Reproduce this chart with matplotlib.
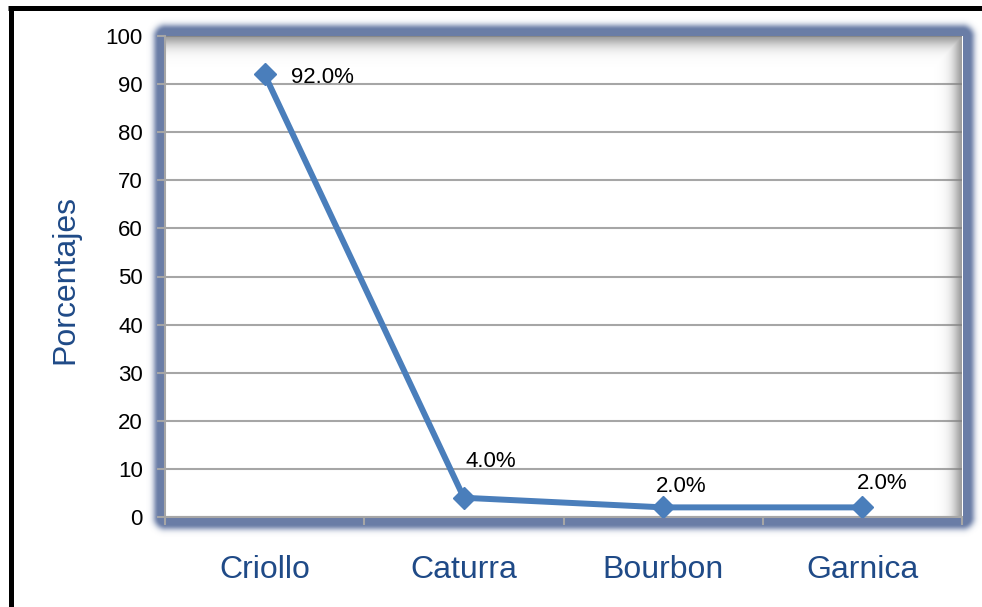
import matplotlib
matplotlib.use("Agg")
import matplotlib.pyplot as plt
import numpy as np
from matplotlib.lines import Line2D

# Data
categories = ["Criollo", "Caturra", "Bourbon", "Garnica"]
values = [92.0, 4.0, 2.0, 2.0]
labels = ["92.0%", "4.0%", "2.0%", "2.0%"]
label_offsets = [(58, -3), (27, 36), (18, 21), (20, 24)]  # px, style only

plt.rcParams['font.family'] = ['Liberation Sans', 'DejaVu Sans']

W, H = 982, 607
fig = plt.figure(figsize=(W / 100, H / 100), dpi=100)

# axes box in pixels (from top-left)
x0, x1, y0, y1 = 165, 962, 517, 36
ax = fig.add_axes([x0 / W, 1 - y0 / H, (x1 - x0) / W, (y0 - y1) / H])

# soft blue-grey glow around the plot area
py, px = np.mgrid[0:H, 0:W]
dx = np.maximum(np.maximum(x0 - px, px - x1), 0)
dy = np.maximum(np.maximum(y1 - py, py - y0), 0)
d = np.hypot(dx, dy)
a = np.where(d <= 7, 1.0, np.exp(-((d - 7) / 5.5) ** 2))
a[(dx == 0) & (dy == 0)] = 0
glow = np.zeros((H, W, 4))
glow[..., 0], glow[..., 1], glow[..., 2] = 0x6A / 255, 0x7D / 255, 0xA6 / 255
glow[..., 3] = a
fig.figimage(glow, 0, 0, zorder=-1, origin="upper")

# black frame of the chart object (top and left)
fig.add_artist(Line2D([8 / W, 1.0], [1 - 8 / H, 1 - 8 / H], color="black", lw=3.6,
                      transform=fig.transFigure, solid_capstyle="butt"))
fig.add_artist(Line2D([10.5 / W, 10.5 / W], [0, 1 - 6 / H], color="black", lw=3.6,
                      transform=fig.transFigure, solid_capstyle="butt"))

x = np.arange(len(categories))
ax.set_xlim(-0.5, len(categories) - 0.5)
ax.set_ylim(0, 100)
ax.set_facecolor("white")

# inner shadow on top and right edges
pw, ph = x1 - x0, y0 - y1
yy, xx = np.mgrid[0:ph, 0:pw]
top = np.exp(-(yy / 10.0) ** 1.5)
right = np.exp(-((pw - 1 - xx) / 9.0) ** 1.5)
alpha = np.clip(np.maximum(top, right) * 0.75, 0, 1)
shade = np.zeros((ph, pw, 4))
shade[..., :3] = 0.5
shade[..., 3] = alpha
ax.imshow(shade, extent=(-0.5, len(categories) - 0.5, 0, 100), aspect="auto",
          zorder=1.5, interpolation="bilinear")

ax.set_yticks(np.arange(0, 101, 10))
ax.yaxis.grid(True, color="#A6A6A6", lw=1.5)
ax.set_axisbelow(True)

ax.plot(x, values, color="#4A7EBB", lw=4.3, marker="D", markersize=11,
        markerfacecolor="#4A7EBB", markeredgecolor="#4A7EBB", zorder=3)

for xi, v, lab, off in zip(x, values, labels, label_offsets):
    ax.annotate(lab, (xi, v), xytext=(off[0] * 0.72, off[1] * 0.72),
                textcoords="offset points", ha="center", va="center",
                fontsize=16, color="black", zorder=4)

ax.set_xticks(x)
ax.set_xticklabels(categories, fontsize=23, color="#1F4A87")
ax.set_xticks(np.arange(-0.5, len(categories), 1.0), minor=True)
ax.tick_params(axis="x", which="major", length=0, pad=27)
ax.tick_params(axis="x", which="minor", length=6, width=1.5, color="#A6A6A6",
               direction="out")
ax.tick_params(axis="y", length=6, width=1.5, color="#A6A6A6", labelsize=16,
               pad=10)

for s in ["top", "right"]:
    ax.spines[s].set_visible(False)
for s in ["left", "bottom"]:
    ax.spines[s].set_color("#A6A6A6")
    ax.spines[s].set_linewidth(1.5)
    ax.spines[s].set_zorder(2)

fig.text(65 / W, 1 - 280 / H, "Porcentajes", rotation=90, fontsize=23,
         color="#1F4A87", ha="center", va="center")

fig.savefig("out.png", dpi=100)
